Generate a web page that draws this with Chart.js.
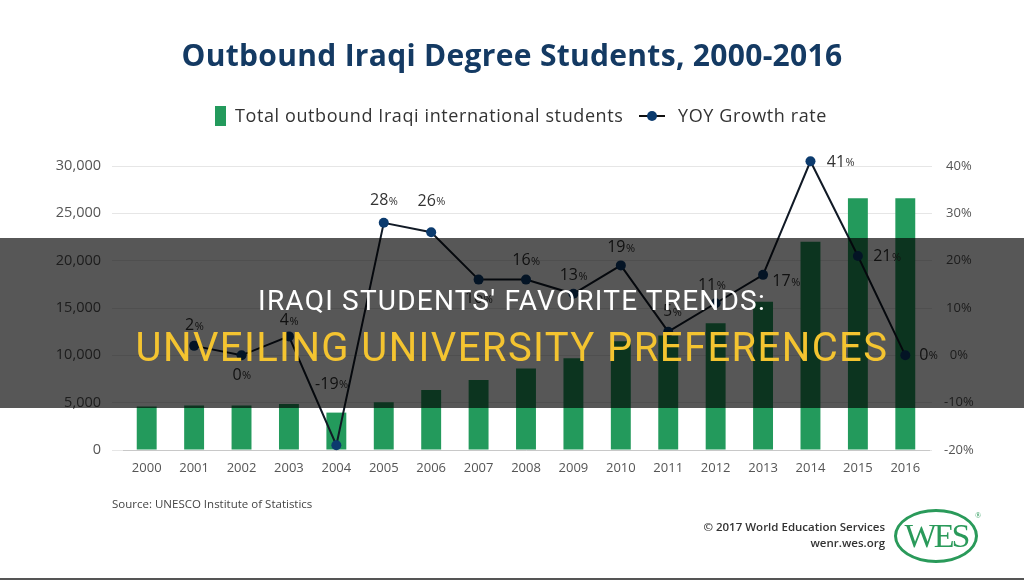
<!DOCTYPE html>
<html>
<head>
<meta charset="utf-8">
<script src="https://cdn.jsdelivr.net/npm/chart.js@4.4.1/dist/chart.umd.min.js"></script>
<style>
  html, body { margin: 0; padding: 0; background: #fff; }
  #wrap { position: relative; width: 1024px; height: 580px; overflow: hidden; background: #fff; font-family: "Open Sans", sans-serif; }
  #chart { position: absolute; left: 0; top: 0; }
  .title { position: absolute; left: 0; width: 1024px; top: 34px; text-align: center; font-weight: 700; font-size: 30px; color: #143a63; letter-spacing: 0.3px; }
  .legend { position: absolute; top: 103px; left: 0; width: 1024px; height: 26px; font-size: 18px; color: #333; letter-spacing: 0.6px; }
  .sw-bar { position: absolute; left: 215px; top: 3px; width: 11px; height: 20px; background: #239a5c; }
  .leg1 { position: absolute; left: 235px; top: 0; }
  .sw-line { position: absolute; left: 639px; top: 12px; width: 26px; height: 2px; background: #111; }
  .sw-dot { position: absolute; left: 647px; top: 8px; width: 10px; height: 10px; border-radius: 50%; background: #0c3b6e; }
  .leg2 { position: absolute; left: 678px; top: 0; }
  .source { position: absolute; left: 112px; top: 496px; font-size: 11.5px; color: #444; }
  .credit { position: absolute; right: 139px; top: 519px; font-size: 11.5px; color: #333; text-align: right; line-height: 16px; font-weight: 600; }
  .logo { position: absolute; left: 894px; top: 509px; width: 78px; height: 48px; border: 3px solid #2a9a5a; border-radius: 50%; color: #2a9a5a; font-family: "Liberation Serif", serif; font-size: 34px; text-align: center; line-height: 48px; letter-spacing: -3px; }
  .logo sup { position: absolute; right: -6px; top: 0px; font-size: 8px; line-height: 8px; letter-spacing: 0; }
  .band { position: absolute; left: 0; top: 238px; width: 1024px; height: 170px; background: rgba(0,0,0,0.66); }
  .l1 { position: absolute; left: 0; width: 1024px; top: 284px; text-align: center; font-family: Roboto, sans-serif; font-size: 28px; color: #fff; letter-spacing: 1.2px; }
  .l2 { position: absolute; left: 0; width: 1024px; top: 324px; text-align: center; font-family: Roboto, sans-serif; font-size: 40px; color: #f4c430; letter-spacing: 1.4px; }
  .bottomline { position: absolute; left: 0; top: 578px; width: 1024px; height: 2px; background: #555; }
</style>
</head>
<body>
<div id="wrap">
  <canvas id="chart" width="1024" height="580"></canvas>
  <div class="title">Outbound Iraqi Degree Students, 2000-2016</div>
  <div class="legend">
    <div class="sw-bar"></div><div class="leg1">Total outbound Iraqi international students</div>
    <div class="sw-line"></div><div class="sw-dot"></div><div class="leg2">YOY Growth rate</div>
  </div>
  <div class="source">Source: UNESCO Institute of Statistics</div>
  <div class="credit">© 2017 World Education Services<br>wenr.wes.org</div>
  <div class="logo">WES<sup>®</sup></div>
  <div class="band"></div>
  <div class="l1">IRAQI STUDENTS' FAVORITE TRENDS:</div>
  <div class="l2">UNVEILING UNIVERSITY PREFERENCES</div>
  <div class="bottomline"></div>
</div>
<script>
// data
const years = ["2000", "2001", "2002", "2003", "2004", "2005", "2006", "2007", "2008",
  "2009", "2010", "2011", "2012", "2013", "2014", "2015", "2016"];
const students = [4600, 4700, 4700, 4850, 3950, 5050, 6350, 7400, 8600,
  9700, 11500, 12100, 13400, 15650, 22000, 26600, 26600];
const growth = [null, 2, 0, 4, -19, 28, 26, 16, 16, 13, 19, 5, 11, 17, 41, 21, 0];
const leftTicks = ["0", "5,000", "10,000", "15,000", "20,000", "25,000", "30,000"];
const rightTicks = ["-20%", "-10%", "0%", "10%", "20%", "30%", "40%"];

// where each growth label sits relative to its point [dx, dy]
const labelOffsets = [null, [0, -20], [0, 20], [0, -16], [-5, -61], [0, -22], [0, -31],
  [0, 19], [0, -19], [0, -18], [0, -18], [4, -20], [-4, -18], [23, 7], [30, 1], [29, 1], [23, 0]];

const growthLabels = {
  id: "growthLabels",
  afterDatasetsDraw(chart) {
    const ctx = chart.ctx;
    const meta = chart.getDatasetMeta(1);
    ctx.save();
    ctx.fillStyle = "#333";
    ctx.textBaseline = "middle";
    meta.data.forEach((pt, i) => {
      if (growth[i] === null) return;
      const num = String(growth[i]);
      ctx.font = "16px 'Open Sans'";
      const w1 = ctx.measureText(num).width;
      ctx.font = "11px 'Open Sans'";
      const w2 = ctx.measureText("%").width;
      const cx = pt.x + labelOffsets[i][0];
      const cy = pt.y + labelOffsets[i][1];
      const x0 = cx - (w1 + w2) / 2;
      ctx.textAlign = "left";
      ctx.font = "16px 'Open Sans'";
      ctx.fillText(num, x0, cy);
      ctx.font = "11px 'Open Sans'";
      ctx.fillText("%", x0 + w1 + 0.5, cy + 1);
    });
    ctx.restore();
  }
};

const xFont = { family: "'Open Sans'", size: 13 };
const yFont = { family: "'Open Sans'", size: 14.5 };

new Chart(document.getElementById("chart").getContext("2d"), {
  data: {
    labels: years,
    datasets: [
      {
        type: "bar",
        label: "Total outbound Iraqi international students",
        data: students,
        backgroundColor: "#239a5c",
        categoryPercentage: 1,
        barPercentage: 0.42,
        yAxisID: "y",
        order: 1
      },
      {
        type: "line",
        label: "YOY Growth rate",
        data: growth,
        borderColor: "#111a26",
        borderWidth: 2,
        pointRadius: 5,
        pointBackgroundColor: "#0c3b6e",
        pointBorderColor: "#0c3b6e",
        pointBorderWidth: 0,
        tension: 0,
        clip: false,
        yAxisID: "y1",
        order: 0
      }
    ]
  },
  options: {
    responsive: false,
    animation: false,
    layout: { padding: { top: 166, bottom: 100, left: 0, right: 0 } },
    plugins: { legend: { display: false }, tooltip: { enabled: false } },
    scales: {
      x: {
        offset: true,
        grid: { display: false, drawTicks: false },
        border: { color: "#c8c8c8" },
        ticks: { color: "#555", font: xFont, padding: 10, maxRotation: 0 },
        afterFit(s) { s.height = 30; }
      },
      y: {
        position: "left",
        min: 0,
        max: 30000,
        grid: { color: "#e6e6e6", tickLength: 11, tickColor: "#e6e6e6" },
        border: { display: false },
        ticks: {
          stepSize: 5000,
          color: "#555",
          font: yFont,
          padding: 11,
          callback: (v, i) => leftTicks[i]
        },
        afterFit(s) { s.width = 123; }
      },
      y1: {
        position: "right",
        min: -20,
        max: 40,
        grid: { drawOnChartArea: false, tickLength: 3, color: "#e6e6e6" },
        border: { display: false },
        ticks: {
          stepSize: 10,
          color: "#555",
          font: xFont,
          padding: 12,
          crossAlign: "center",
          callback: (v, i) => rightTicks[i]
        },
        afterFit(s) { s.width = 95; }
      }
    }
  },
  plugins: [growthLabels]
});
</script>
</body>
</html>
